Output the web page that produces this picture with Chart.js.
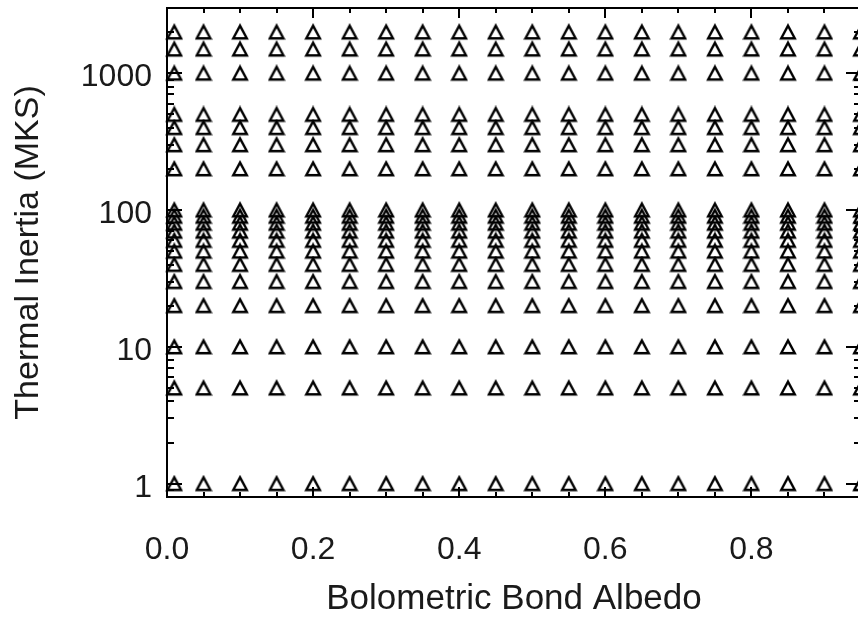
<!DOCTYPE html>
<html>
<head>
<meta charset="utf-8">
<title>Thermal inertia vs albedo grid</title>
<script src="https://cdn.jsdelivr.net/npm/chart.js@4.4.1/dist/chart.umd.min.js"></script>
<style>
  html, body { margin: 0; padding: 0; background: #fff; overflow: hidden; }
  #wrap { width: 872px; height: 617px; }
</style>
</head>
<body>
<div id="wrap"><canvas id="myChart" width="872" height="617"></canvas></div>
<script>
// model grid: every albedo is run at every thermal inertia
const albedo = [0.01, 0.05, 0.10, 0.15, 0.20, 0.25, 0.30, 0.35, 0.40, 0.45,
                0.50, 0.55, 0.60, 0.65, 0.70, 0.75, 0.80, 0.85, 0.90, 0.95];
const inertia = [1, 5, 10, 20, 30, 40, 50, 60, 70, 80, 90, 100,
                 200, 300, 400, 500, 1000, 1500, 2000];

const albedoLabels = [0.0, 0.2, 0.4, 0.6, 0.8];
const inertiaLabels = [1, 10, 100, 1000];

const ink = '#1a1a1a';
Chart.defaults.font.family = "'Liberation Sans', Arial, Helvetica, sans-serif";

let points = [];
for (let a of albedo) {
  for (let ti of inertia) {
    points.push({x: a, y: ti});
  }
}

// open triangle symbol, centred on the point
const tri = document.createElement('canvas');
tri.width = 18;
tri.height = 18;
const tctx = tri.getContext('2d');
tctx.strokeStyle = '#000';
tctx.lineWidth = 2.4;
tctx.beginPath();
tctx.moveTo(9, 2.6);
tctx.lineTo(15.8, 15.2);
tctx.lineTo(2.2, 15.2);
tctx.closePath();
tctx.stroke();

// minor tick positions for the box
let xMinor = [];
for (let i = 0; i <= 19; i++) xMinor.push(i * 0.05);
let yMinor = [];
for (let d of [0.1, 1, 10, 100, 1000]) {
  for (let m = 2; m <= 9; m++) yMinor.push(d * m);
}

// IDL style box: frame with inward ticks on all four sides
const boxAxes = {
  id: 'boxAxes',
  afterDatasetsDraw(chart) {
    const {ctx, chartArea: a, scales: {x, y}} = chart;
    ctx.save();
    ctx.strokeStyle = '#000';
    ctx.lineWidth = 2;
    ctx.strokeRect(a.left, a.top, a.right - a.left, a.bottom - a.top);
    ctx.beginPath();
    const xTick = (v, len) => {
      if (v < x.min || v > x.max) return;
      const px = Math.round(x.getPixelForValue(v));
      ctx.moveTo(px, a.bottom); ctx.lineTo(px, a.bottom - len);
      ctx.moveTo(px, a.top); ctx.lineTo(px, a.top + len);
    };
    const yTick = (v, len) => {
      if (v <= y.min || v >= y.max) return;
      const py = Math.round(y.getPixelForValue(v));
      ctx.moveTo(a.left, py); ctx.lineTo(a.left + len, py);
      ctx.moveTo(a.right, py); ctx.lineTo(a.right - len, py);
    };
    xMinor.forEach(v => xTick(v, 5));
    albedoLabels.forEach(v => xTick(v, 10));
    yMinor.forEach(v => yTick(v, 7));
    inertiaLabels.forEach(v => yTick(v, 15));
    ctx.stroke();
    ctx.restore();
  }
};

const myChart = document.getElementById('myChart');
const grid = new Chart(myChart, {
  type: 'scatter',
  data: {
    datasets: [{
      label: 'runs',
      data: points,
      pointStyle: tri,
      pointRadius: 7,
      clip: false,
    }],
  },
  options: {
    responsive: false,
    animation: false,
    layout: {
      padding: {top: 8, right: 11, bottom: 0, left: 0},
    },
    plugins: {
      legend: {display: false},
      tooltip: {enabled: false},
    },
    scales: {
      x: {
        type: 'linear',
        min: 0,
        max: 0.95,
        afterBuildTicks: (s) => { s.ticks = albedoLabels.map(v => ({value: v})); },
        afterFit: (s) => {
          s.height = 120;
          s.paddingLeft = 0;
          s.paddingRight = 0;
        },
        grid: {display: false, drawTicks: false},
        border: {display: false},
        ticks: {
          autoSkip: false,
          maxRotation: 0,
          padding: 34,
          color: ink,
          font: {size: 32},
          callback: (v) => Number(v).toFixed(1),
        },
        title: {
          display: true,
          text: 'Bolometric Bond Albedo',
          color: ink,
          font: {size: 35, lineHeight: 1},
          padding: {top: 0, bottom: 0},
        },
      },
      y: {
        type: 'logarithmic',
        min: 0.8,
        max: 3000,
        afterBuildTicks: (s) => { s.ticks = inertiaLabels.map(v => ({value: v})); },
        afterFit: (s) => {
          s.width = 167;
          s.paddingTop = 0;
          s.paddingBottom = 0;
        },
        grid: {display: false, drawTicks: false},
        border: {display: false},
        ticks: {
          autoSkip: false,
          padding: 15,
          labelOffset: 4,
          color: ink,
          font: {size: 32},
          callback: (v) => String(v),
        },
        title: {
          display: true,
          text: 'Thermal Inertia (MKS)',
          color: ink,
          font: {size: 34, lineHeight: 1.2},
          padding: {top: 8, bottom: 0},
        },
      },
    },
  },
  plugins: [boxAxes],
});
</script>
</body>
</html>
